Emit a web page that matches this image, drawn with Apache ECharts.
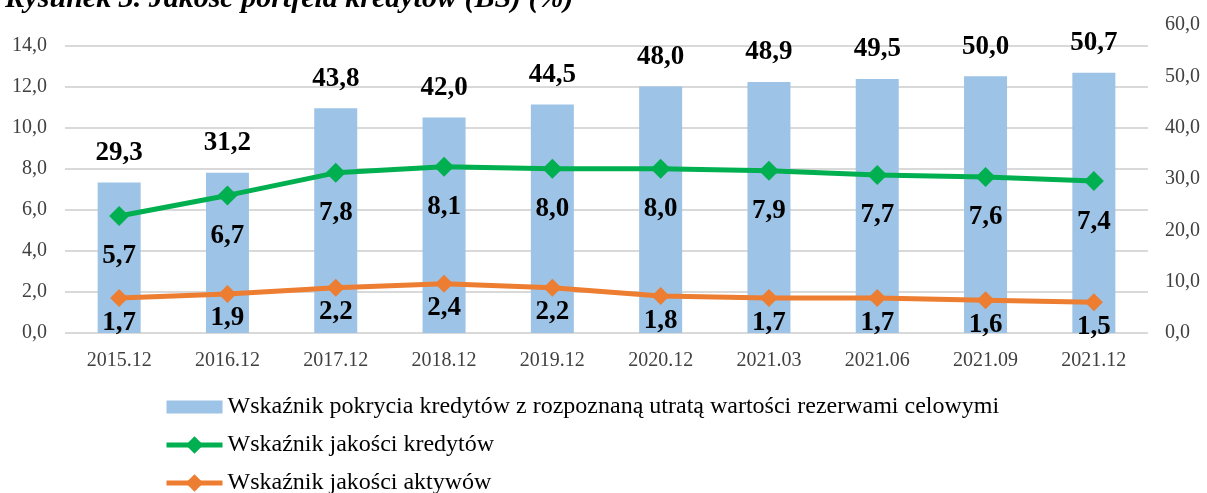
<!DOCTYPE html>
<html>
<head>
<meta charset="utf-8">
<script src="https://cdn.jsdelivr.net/npm/echarts@6/dist/echarts.min.js"></script>
<style>
  html, body { margin: 0; padding: 0; background: #fff; }
  #chart { width: 1207px; height: 493px; }
</style>
</head>
<body>
<div id="chart"></div>
<script type="text/javascript">
    // dane z rysunku
    let kategorie = ['2015.12','2016.12','2017.12','2018.12','2019.12','2020.12','2021.03','2021.06','2021.09','2021.12'];
    let pokrycie = [29.3, 31.2, 43.8, 42.0, 44.5, 48.0, 48.9, 49.5, 50.0, 50.7];
    let jakoscKredytow = [5.7, 6.7, 7.8, 8.1, 8.0, 8.0, 7.9, 7.7, 7.6, 7.4];
    let jakoscAktywow = [1.7, 1.9, 2.2, 2.4, 2.2, 1.8, 1.7, 1.7, 1.6, 1.5];

    let font = '"Liberation Serif", "Times New Roman", serif';
    let fmt = function (v) { return Number(v).toFixed(1).replace('.', ','); };

    let myChart = echarts.init(document.getElementById('chart'));
    let option = {
        animation: false,
        textStyle: { fontFamily: font },
        title: {
            text: 'Rysunek 3. Jakość portfela kredytów (BS) (%)',
            left: 0,
            top: -21,
            textStyle: { fontFamily: font, fontSize: 30, fontStyle: 'italic', fontWeight: 'bold', color: '#000' }
        },
        legend: {
            orient: 'vertical',
            left: 164,
            top: 395,
            padding: 0,
            height: 130,
            itemWidth: 56,
            itemHeight: 22,
            itemGap: 14,
            textStyle: { fontFamily: font, fontSize: 24, color: '#000' },
            data: [
                { name: 'Wskaźnik pokrycia kredytów z rozpoznaną utratą wartości rezerwami celowymi', icon: 'path://M0,0h52v12h-52z' },
                { name: 'Wskaźnik jakości kredytów', lineStyle: { width: 5 } },
                { name: 'Wskaźnik jakości aktywów', lineStyle: { width: 5 } }
            ]
        },
        grid: { left: 65, right: 59, top: 25, bottom: 160 },
        xAxis: {
            type: 'category',
            data: kategorie,
            axisLine: { show: false },
            axisTick: { show: false },
            axisLabel: { fontFamily: font, fontSize: 20, color: '#404040', margin: 18 }
        },
        yAxis: [
            {
                type: 'value',
                min: 0,
                max: 15,
                interval: 2,
                axisLine: { show: false },
                axisTick: { show: false },
                axisLabel: { fontFamily: font, fontSize: 20, color: '#404040', margin: 18, showMaxLabel: false, formatter: fmt },
                splitLine: { showMaxLine: false, lineStyle: { color: '#d9d9d9', width: 2 } }
            },
            {
                type: 'value',
                min: 0,
                max: 60,
                interval: 10,
                axisLine: { show: false },
                axisTick: { show: false },
                axisLabel: { fontFamily: font, fontSize: 20, color: '#404040', margin: 17, formatter: fmt },
                splitLine: { show: false }
            }
        ],
        series: [
            {
                name: 'Wskaźnik pokrycia kredytów z rozpoznaną utratą wartości rezerwami celowymi',
                type: 'bar',
                yAxisIndex: 1,
                data: pokrycie,
                barWidth: 43,
                itemStyle: { color: '#9dc3e6' },
                label: {
                    show: true,
                    position: 'top',
                    distance: 16,
                    formatter: function (p) { return fmt(p.value); },
                    fontFamily: font, fontSize: 27, fontWeight: 'bold', color: '#000'
                }
            },
            {
                name: 'Wskaźnik jakości kredytów',
                type: 'line',
                yAxisIndex: 0,
                data: jakoscKredytow,
                symbol: 'diamond',
                symbolSize: 20,
                lineStyle: { color: '#00b050', width: 5 },
                itemStyle: { color: '#00b050' },
                label: {
                    show: true,
                    position: 'bottom',
                    distance: 17,
                    formatter: function (p) { return fmt(p.value); },
                    fontFamily: font, fontSize: 27, fontWeight: 'bold', color: '#000'
                }
            },
            {
                name: 'Wskaźnik jakości aktywów',
                type: 'line',
                yAxisIndex: 0,
                data: jakoscAktywow,
                symbol: 'diamond',
                symbolSize: 18,
                lineStyle: { color: '#ed7d31', width: 5 },
                itemStyle: { color: '#ed7d31' },
                label: {
                    show: true,
                    position: 'bottom',
                    distance: 2,
                    formatter: function (p) { return fmt(p.value); },
                    fontFamily: font, fontSize: 27, fontWeight: 'bold', color: '#000'
                }
            }
        ]
    };
    myChart.setOption(option);
</script>
</body>
</html>
